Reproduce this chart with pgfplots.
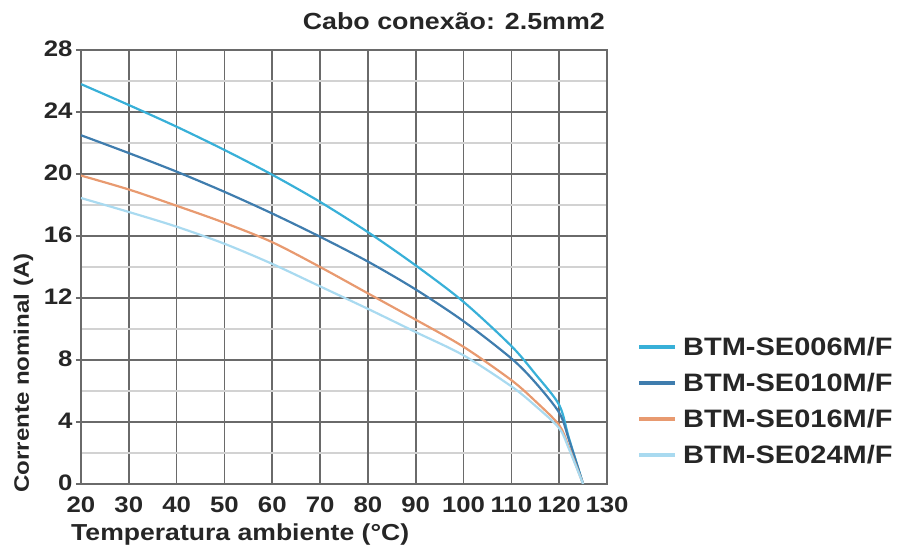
\documentclass[border=0pt]{standalone}
\usepackage{fontspec}
\setmainfont{Liberation Sans}[FakeStretch=1.15]
\usepackage{pgfplots}
\pgfplotsset{compat=1.18}

\definecolor{cse006}{HTML}{38B0D8}
\definecolor{cse010}{HTML}{3F7DAE}
\definecolor{cse016}{HTML}{E89A70}
\definecolor{cse024}{HTML}{A9DAF0}
\definecolor{gmajor}{HTML}{6A6A6A}
\definecolor{gminor}{HTML}{D2D2D2}

\begin{document}
\begin{tikzpicture}
\begin{axis}[
    at={(0,0)}, anchor=south west,
    scale only axis,
    width=526bp, height=434bp,
    xmin=20, xmax=130, ymin=0, ymax=28,
    xtick={20,30,...,130},
    ytick={0,4,...,28},
    minor ytick={2,6,...,26},
    grid=both,
    major grid style={gmajor, line width=1.7bp},
    minor grid style={gminor, line width=1.4bp},
    extra x ticks={80},
    extra x tick labels={},
    extra x tick style={grid style={black!75, line width=2.3bp}},
    axis line style={gmajor, line width=1.7bp},
    xtick style={draw=none},
    ytick style={gmajor, line width=1.4bp},
    ytick pos=left,
    tick align=outside,
    major tick length=5bp,
    minor tick length=0pt,
    /pgf/number format/assume math mode=true,
    tick label style={font=\bfseries\fontsize{22.5}{24}\selectfont, text=black!85},
    xticklabel style={yshift=-4bp},
    yticklabel style={yshift=1bp},
    title={Cabo conexão: 2.5mm2},
    title style={at={(axis description cs:1,1)}, anchor=base east, yshift=15bp, xshift=-2bp, inner sep=0pt,
      font=\bfseries\fontsize{23.4}{25}\selectfont, text=black!85},
    xlabel={Temperatura ambiente (°C)},
    xlabel style={at={(axis description cs:-0.019,-0.131)}, anchor=base west, inner sep=0pt,
      font=\bfseries\fontsize{23.2}{25}\selectfont, text=black!85},
    ylabel={Corrente nominal (A)},
    ylabel style={at={(axis description cs:-0.0989,-0.0207)}, anchor=base west, inner sep=0pt, rotate=0,
      font=\bfseries\fontsize{21}{23}\selectfont, text=black!85},
    legend cell align=left,
    legend image code/.code={\draw[#1, line width=4bp] (0bp,0bp) -- (36bp,0bp);},
    legend style={at={(axis description cs:1,0.1917)}, anchor=west, xshift=30bp,
      draw=none, fill=none, inner sep=0pt, row sep=6bp,
      font=\bfseries\fontsize{25.3}{27}\selectfont, text=black!85,
      nodes={inner sep=6bp, text height=18bp, text depth=0bp}},
]
\addplot[cse006, line width=2.2bp, smooth, tension=0.5] coordinates {
  (20,25.8) (30,24.45) (40,23.05) (50,21.55) (60,19.95) (70,18.2) (80,16.25)
  (90,14.1) (100,11.75) (110,8.9) (115,7.1) (120,5.1) (122,3.0) (125,0)
};
\addlegendentry{BTM-SE006M/F}
\addplot[cse010, line width=2.2bp, smooth, tension=0.5] coordinates {
  (20,22.5) (30,21.35) (40,20.15) (50,18.85) (60,17.45) (70,15.95) (80,14.35)
  (90,12.55) (100,10.5) (110,8.1) (115,6.55) (120,4.6) (122,2.9) (125,0)
};
\addlegendentry{BTM-SE010M/F}
\addplot[cse016, line width=2.2bp, smooth, tension=0.5] coordinates {
  (20,19.9) (30,19.0) (40,17.95) (50,16.85) (60,15.6) (70,14.0) (80,12.3)
  (90,10.6) (100,8.85) (110,6.7) (115,5.35) (120,3.8) (122,2.4) (125,0)
};
\addlegendentry{BTM-SE016M/F}
\addplot[cse024, line width=2.2bp, smooth, tension=0.5] coordinates {
  (20,18.45) (30,17.55) (40,16.6) (50,15.5) (60,14.2) (70,12.75) (80,11.3)
  (90,9.8) (100,8.3) (110,6.3) (115,5.05) (120,3.6) (122,2.3) (125,0)
};
\addlegendentry{BTM-SE024M/F}
\end{axis}
\pgfresetboundingbox
\useasboundingbox (-81bp,-68bp) rectangle (818bp,484bp);
\end{tikzpicture}
\end{document}
